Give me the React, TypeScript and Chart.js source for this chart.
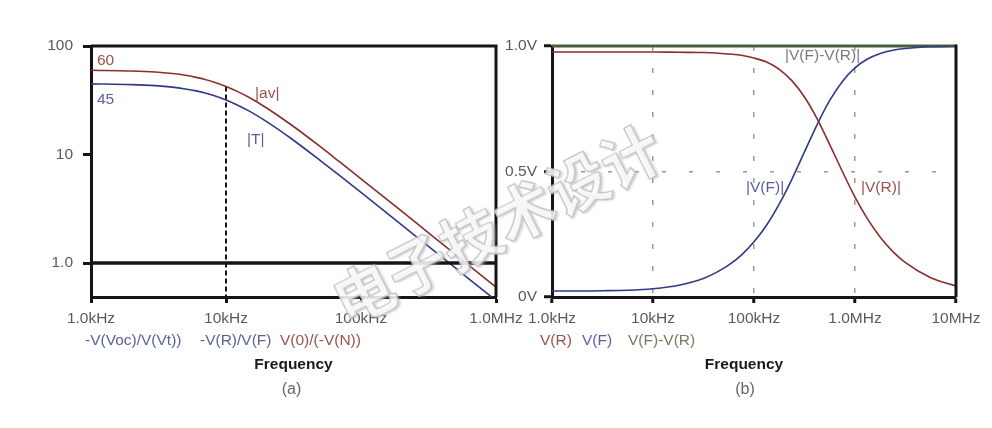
import React, { useEffect, useRef } from 'react';
import { Chart, registerables } from 'chart.js';

Chart.register(...registerables);

// ---------- Chart (a) data ----------
const freqA = [1000, 2000, 3000, 4000, 5000, 6000, 7000, 8000, 10000, 12000, 15000, 20000, 30000, 50000, 70000, 100000, 200000, 300000, 500000, 700000, 1000000];
const avMag = [59.7, 58.8, 57.5, 55.7, 53.7, 51.4, 49.2, 46.9, 42.4, 38.4, 33.3, 26.8, 19.0, 11.8, 8.49, 5.97, 3.0, 2.0, 1.2, 0.857, 0.60];
const tMag = [44.8, 44.1, 43.1, 41.8, 40.2, 38.6, 36.9, 35.1, 31.8, 28.8, 25.0, 20.1, 14.2, 8.8, 6.36, 4.48, 2.25, 1.5, 0.9, 0.643, 0.45];
const unityFreq = [1000, 1000000];
const unityLevel = [1, 1];
const markerFreq = [10000, 10000];
const markerLevel = [42.4, 0.486];
const xTicksA = [1000, 10000, 100000, 1000000];
const xLabelsA = ['1.0kHz', '10kHz', '100kHz', '1.0MHz'];
const yTicksA = [1, 10, 100];
const yLabelsA = ['1.0', '10', '100'];

// ---------- Chart (b) data ----------
const freqB = [1000, 1800, 3200, 5600, 10000, 18000, 32000, 42000, 56000, 75000, 100000, 133000, 178000, 237000, 316000, 422000, 562000, 750000, 1000000, 1330000, 1780000, 2370000, 3160000, 5620000, 10000000];
const vR = [0.976, 0.976, 0.976, 0.976, 0.976, 0.975, 0.974, 0.972, 0.968, 0.963, 0.952, 0.936, 0.907, 0.862, 0.797, 0.710, 0.607, 0.500, 0.398, 0.311, 0.238, 0.181, 0.137, 0.077, 0.044];
const vF = [0.024, 0.024, 0.025, 0.027, 0.033, 0.047, 0.075, 0.097, 0.127, 0.167, 0.220, 0.286, 0.371, 0.469, 0.578, 0.687, 0.783, 0.859, 0.913, 0.948, 0.970, 0.983, 0.990, 0.997, 0.999];
const diffFreq = [1000, 10000000];
const diffLevel = [1, 1];
const xTicksB = [1000, 10000, 100000, 1000000, 10000000];
const xLabelsB = ['1.0kHz', '10kHz', '100kHz', '1.0MHz', '10MHz'];
const yTicksB = [0, 0.5, 1];
const yLabelsB = ['0V', '0.5V', '1.0V'];

const RED = '#8c2c2c';
const BLUE = '#2f3a86';
const GREEN = '#4b5e3b';
const AXIS = '#151515';
const TICKTXT = '#5a5a5a';
const FONT = '"Liberation Sans", Arial, sans-serif';

const pts = (xs: number[], ys: number[]) => xs.map((x, i) => ({ x, y: ys[i] }));

const framePlugin = (drawTop: boolean) => ({
  id: 'frame',
  afterDatasetsDraw(chart: any) {
    const { ctx, chartArea } = chart;
    const { left, right, top, bottom } = chartArea;
    ctx.save();
    ctx.strokeStyle = AXIS;
    ctx.lineWidth = 3;
    ctx.beginPath();
    if (drawTop) {
      ctx.moveTo(left, top);
      ctx.lineTo(right, top);
    }
    ctx.moveTo(right, top - 1.5);
    ctx.lineTo(right, bottom);
    ctx.stroke();
    ctx.restore();
  },
});

const tickFont = { family: FONT, size: 15.5 };

function ChartA() {
  const ref = useRef<HTMLCanvasElement>(null);
  useEffect(() => {
    const chart = new Chart(ref.current!, {
      type: 'line',
      data: {
        datasets: [
          { data: pts(unityFreq, unityLevel), borderColor: AXIS, borderWidth: 3.5, pointRadius: 0 },
          { data: pts(freqA, avMag), borderColor: RED, borderWidth: 1.6, pointRadius: 0, cubicInterpolationMode: 'monotone' },
          { data: pts(freqA, tMag), borderColor: BLUE, borderWidth: 1.6, pointRadius: 0, cubicInterpolationMode: 'monotone' },
          { data: pts(markerFreq, markerLevel), borderColor: AXIS, borderWidth: 2, borderDash: [5, 3], pointRadius: 0 },
        ],
      } as any,
      options: {
        animation: false,
        responsive: false,
        events: [],
        layout: { padding: { left: 0, top: 46, right: 44, bottom: 0 } },
        plugins: { legend: { display: false }, tooltip: { enabled: false } },
        scales: {
          x: {
            type: 'logarithmic',
            min: 1000,
            max: 1000000,
            afterBuildTicks: (s: any) => { s.ticks = xTicksA.map((v) => ({ value: v })); },
            afterFit: (s: any) => { s.height = 131; },
            ticks: { callback: (_v: any, i: number) => xLabelsA[i], font: tickFont, color: TICKTXT, padding: 6, maxRotation: 0, autoSkip: false },
            grid: { drawOnChartArea: false, drawTicks: true, tickLength: 6, tickWidth: 3, tickColor: AXIS },
            border: { color: AXIS, width: 3 },
          },
          y: {
            type: 'logarithmic',
            min: 0.486,
            max: 100,
            afterBuildTicks: (s: any) => { s.ticks = yTicksA.map((v) => ({ value: v })); },
            afterFit: (s: any) => { s.width = 91; },
            ticks: { callback: (_v: any, i: number) => yLabelsA[i], font: tickFont, color: TICKTXT, padding: 10, autoSkip: false },
            grid: { drawOnChartArea: false, drawTicks: true, tickLength: 8, tickWidth: 3, tickColor: AXIS },
            border: { color: AXIS, width: 3 },
          },
        },
      } as any,
      plugins: [framePlugin(true)],
    });
    return () => chart.destroy();
  }, []);
  return <canvas ref={ref} width={540} height={428} style={{ position: 'absolute', left: 0, top: 0, width: 540, height: 428 }} />;
}

function ChartB() {
  const ref = useRef<HTMLCanvasElement>(null);
  useEffect(() => {
    const chart = new Chart(ref.current!, {
      type: 'line',
      data: {
        datasets: [
          { data: pts(freqB, vR), borderColor: RED, borderWidth: 1.6, pointRadius: 0, cubicInterpolationMode: 'monotone' },
          { data: pts(freqB, vF), borderColor: BLUE, borderWidth: 1.6, pointRadius: 0, cubicInterpolationMode: 'monotone' },
          { data: pts(diffFreq, diffLevel), borderColor: GREEN, borderWidth: 3, pointRadius: 0, clip: 4 },
        ],
      } as any,
      options: {
        animation: false,
        responsive: false,
        events: [],
        layout: { padding: { left: 0, top: 46, right: 36, bottom: 0 } },
        plugins: { legend: { display: false }, tooltip: { enabled: false } },
        scales: {
          x: {
            type: 'logarithmic',
            min: 1000,
            max: 10000000,
            afterBuildTicks: (s: any) => { s.ticks = xTicksB.map((v) => ({ value: v })); },
            afterFit: (s: any) => { s.height = 131; },
            ticks: { callback: (_v: any, i: number) => xLabelsB[i], font: tickFont, color: TICKTXT, padding: 6, maxRotation: 0, autoSkip: false },
            grid: {
              drawOnChartArea: true,
              color: (c: any) => (c.tick && (c.tick.value === 1000 || c.tick.value === 10000000) ? 'rgba(0,0,0,0)' : '#9a9a9a'),
              lineWidth: 1.5,
              drawTicks: true,
              tickLength: 6,
              tickWidth: 3,
              tickColor: AXIS,
            },
            border: { color: AXIS, width: 3, dash: [5, 17] },
          },
          y: {
            type: 'linear',
            min: 0,
            max: 1,
            afterBuildTicks: (s: any) => { s.ticks = yTicksB.map((v) => ({ value: v })); },
            afterFit: (s: any) => { s.width = 92; },
            ticks: { callback: (_v: any, i: number) => yLabelsB[i], font: tickFont, color: TICKTXT, padding: 7, autoSkip: false },
            grid: {
              drawOnChartArea: true,
              color: (c: any) => (c.tick && c.tick.value === 0.5 ? '#9a9a9a' : 'rgba(0,0,0,0)'),
              lineWidth: 1.5,
              drawTicks: true,
              tickLength: 8,
              tickWidth: 3,
              tickColor: AXIS,
            },
            border: { color: AXIS, width: 3, dash: [4, 23] },
          },
        },
      } as any,
      plugins: [framePlugin(false)],
    });
    return () => chart.destroy();
  }, []);
  return <canvas ref={ref} width={532} height={428} style={{ position: 'absolute', left: 460, top: 0, width: 532, height: 428 }} />;
}

const Txt = ({ x, y, c, s = 15.5, w = 400, center = false, children }: any) => (
  <div
    style={{
      position: 'absolute',
      left: x,
      top: y - 0.49 * s,
      fontSize: s,
      lineHeight: 1,
      color: c,
      fontFamily: FONT,
      fontWeight: w,
      whiteSpace: 'nowrap',
      transform: center ? 'translateX(-50%)' : undefined,
    }}
  >
    {children}
  </div>
);

const LRED = '#9c5050';
const LBLUE = '#5b5f9c';
const LGREEN = '#6e7d62';

export default function App() {
  useEffect(() => {
    document.body.style.margin = '0';
  }, []);
  return (
    <div style={{ position: 'absolute', left: 0, top: 0, width: 992, height: 428, background: '#fff', overflow: 'hidden' }}>
      <ChartA />
      <ChartB />
      {/* chart (a) annotations */}
      <Txt x={97} y={59.5} c={LRED}>60</Txt>
      <Txt x={97} y={98.5} c={LBLUE}>45</Txt>
      <Txt x={255} y={92.5} c={LRED}>|av|</Txt>
      <Txt x={247} y={138.5} c={LBLUE}>|T|</Txt>
      <Txt x={85} y={340} c={LBLUE}>-V(Voc)/V(Vt))</Txt>
      <Txt x={200} y={340} c={LBLUE}>-V(R)/V(F)</Txt>
      <Txt x={280} y={340} c={LRED}>V(0)/(-V(N))</Txt>
      <Txt x={293.5} y={364} c="#1a1a1a" w={700} center>Frequency</Txt>
      <Txt x={291.5} y={389} c="#666" s={16} center>(a)</Txt>
      {/* chart (b) annotations */}
      <Txt x={785} y={55} c="#7a7a7a">|V(F)-V(R)|</Txt>
      <Txt x={746} y={187} c={LBLUE}>|V(F)|</Txt>
      <Txt x={861} y={187} c={LRED}>|V(R)|</Txt>
      <Txt x={540} y={340} c={LRED}>V(R)</Txt>
      <Txt x={582} y={340} c={LBLUE}>V(F)</Txt>
      <Txt x={628} y={340} c={LGREEN}>V(F)-V(R)</Txt>
      <Txt x={744} y={364} c="#1a1a1a" w={700} center>Frequency</Txt>
      <Txt x={745} y={389} c="#666" s={16} center>(b)</Txt>
      {/* watermark */}
      <div
        style={{
          position: 'absolute',
          left: 496,
          top: 222,
          transform: 'translate(-50%, -50%) rotate(-27deg)',
          fontFamily: '"Noto Sans CJK SC", sans-serif',
          fontSize: 60,
          fontWeight: 700,
          lineHeight: 1,
          color: 'rgba(255,255,255,0.8)',
          WebkitTextStroke: '1.2px #bdbdbd',
          textShadow: '2px 2px 2px rgba(170,170,170,0.5)',
          whiteSpace: 'nowrap',
          pointerEvents: 'none',
        }}
      >
        电子技术设计
      </div>
    </div>
  );
}
